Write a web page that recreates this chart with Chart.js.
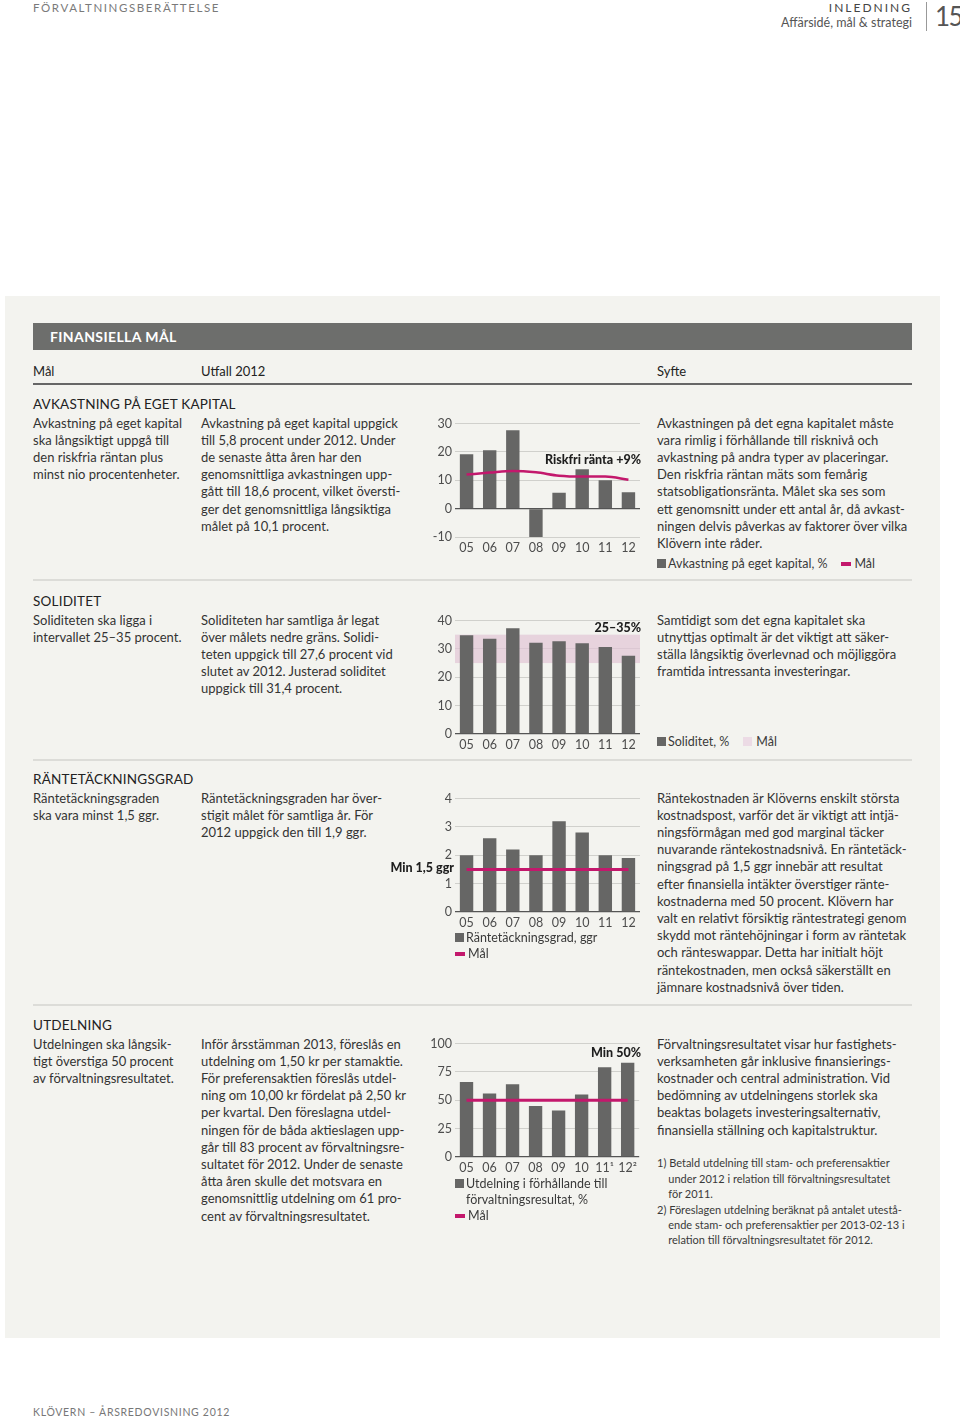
<!DOCTYPE html>
<html lang="sv">
<head>
<meta charset="utf-8">
<script src="https://cdn.jsdelivr.net/npm/chart.js@4/dist/chart.umd.min.js"></script>
<style>
  html, body { margin: 0; padding: 0; background: #fff; }
  body { width: 960px; height: 1420px; position: relative; font-family: Lato, "Open Sans", sans-serif; color: #333; }
  .abs { position: absolute; white-space: nowrap; }
  .panel { position: absolute; left: 5px; top: 296px; width: 935px; height: 1042px; background: #f3f3ef; }
  .bar { position: absolute; left: 33px; top: 323px; width: 879px; height: 27px; background: #6d6e6c; }
  .bar span { position: absolute; left: 17px; top: 5px; color: #fff; font-size: 14px; font-weight: 700; letter-spacing: 0.4px; }
  .t { font-size: 13px; line-height: 17.2px; color: #333; }
  .h { font-size: 13.5px; letter-spacing: 0.2px; color: #222; }
  .sep { position: absolute; left: 33px; width: 879px; height: 2px; background: #dcdcd8; }
  .note { font-size: 12.5px; line-height: 17px; font-weight: 900; color: #1e1e1e; }
  .lg { font-size: 12.5px; line-height: 16px; color: #3a3a3a; }
  .sq { display: inline-block; width: 9px; height: 9px; background: #666665; margin-right: 2px; }
  .ln { display: inline-block; width: 10px; height: 4px; background: #c3186c; margin-right: 3px; vertical-align: 2px; }
  .pk { display: inline-block; width: 9px; height: 9px; background: #ecdbe5; margin-right: 4px; }
  .fn { font-size: 11px; line-height: 15.4px; color: #3a3a3a; }
  canvas { position: absolute; }
</style>
</head>
<body>
<div class="abs" style="left:33px;top:1px;font-size:11.5px;letter-spacing:1.6px;color:#7a7a7a;">FÖRVALTNINGSBERÄTTELSE</div>
<div class="abs" style="right:48px;top:0px;font-size:12px;letter-spacing:2px;color:#444;text-align:right;">INLEDNING</div>
<div class="abs" style="right:48px;top:15px;font-size:12.5px;color:#555;text-align:right;">Affärsidé, mål &amp; strategi</div>
<div class="abs" style="left:926px;top:2px;width:1px;height:29px;background:#999;"></div>
<div class="abs" style="left:935px;top:0px;font-size:26px;letter-spacing:-1.5px;color:#555;">15</div>

<div class="panel"></div>
<div class="bar"><span>FINANSIELLA MÅL</span></div>
<div class="abs t" style="left:33px;top:363px;color:#222;">Mål</div>
<div class="abs t" style="left:201px;top:363px;color:#222;">Utfall 2012</div>
<div class="abs t" style="left:657px;top:363px;color:#222;">Syfte</div>
<div class="abs" style="left:33px;top:383px;width:879px;height:2px;background:#666;"></div>

<!-- Avkastning -->
<div class="abs h" style="left:33px;top:396px;">AVKASTNING PÅ EGET KAPITAL</div>
<div class="abs t" style="left:33px;top:414.5px;">Avkastning på eget kapital<br>ska långsiktigt uppgå till<br>den riskfria räntan plus<br>minst nio procentenheter.</div>
<div class="abs t" style="left:201px;top:414.5px;">Avkastning på eget kapital uppgick<br>till 5,8 procent under 2012. Under<br>de senaste åtta åren har den<br>genomsnittliga avkastningen upp-<br>gått till 18,6 procent, vilket översti-<br>ger det genomsnittliga långsiktiga<br>målet på 10,1 procent.</div>
<div class="abs t" style="left:657px;top:414.5px;">Avkastningen på det egna kapitalet måste<br>vara rimlig i förhållande till risknivå och<br>avkastning på andra typer av placeringar.<br>Den riskfria räntan mäts som femårig<br>statsobligationsränta. Målet ska ses som<br>ett genomsnitt under ett antal år, då avkast-<br>ningen delvis påverkas av faktorer över vilka<br>Klövern inte råder.</div>
<div class="abs lg" style="left:657px;top:556px;"><span class="sq"></span>Avkastning på eget kapital, %<span style="display:inline-block;width:14px;"></span><span class="ln"></span>Mål</div>
<canvas id="avkChart" width="215" height="146" style="left:425px;top:413px;"></canvas>
<div class="abs note" style="right:319px;top:451px;">Riskfri ränta +9%</div>
<div class="sep" style="top:579px;"></div>

<!-- Soliditet -->
<div class="abs h" style="left:33px;top:593px;">SOLIDITET</div>
<div class="abs t" style="left:33px;top:611.5px;">Soliditeten ska ligga i<br>intervallet 25–35 procent.</div>
<div class="abs t" style="left:201px;top:611.5px;">Soliditeten har samtliga år legat<br>över målets nedre gräns. Solidi-<br>teten uppgick till 27,6 procent vid<br>slutet av 2012. Justerad soliditet<br>uppgick till 31,4 procent.</div>
<div class="abs t" style="left:657px;top:611.5px;">Samtidigt som det egna kapitalet ska<br>utnyttjas optimalt är det viktigt att säker-<br>ställa långsiktig överlevnad och möjliggöra<br>framtida intressanta investeringar.</div>
<div class="abs lg" style="left:657px;top:734px;"><span class="sq"></span>Soliditet, %<span style="display:inline-block;width:14px;"></span><span class="pk"></span>Mål</div>
<canvas id="solChart" width="215" height="146" style="left:425px;top:610px;"></canvas>
<div class="abs note" style="right:319px;top:619px;">25–35%</div>
<div class="sep" style="top:759px;"></div>

<!-- Räntetäckningsgrad -->
<div class="abs h" style="left:33px;top:771px;">RÄNTETÄCKNINGSGRAD</div>
<div class="abs t" style="left:33px;top:789.5px;">Räntetäckningsgraden<br>ska vara minst 1,5 ggr.</div>
<div class="abs t" style="left:201px;top:789.5px;">Räntetäckningsgraden har över-<br>stigit målet för samtliga år. För<br>2012 uppgick den till 1,9 ggr.</div>
<div class="abs t" style="left:657px;top:789.5px;">Räntekostnaden är Klöverns enskilt största<br>kostnadspost, varför det är viktigt att intjä-<br>ningsförmågan med god marginal täcker<br>nuvarande räntekostnadsnivå. En räntetäck-<br>ningsgrad på 1,5 ggr innebär att resultat<br>efter finansiella intäkter överstiger ränte-<br>kostnaderna med 50 procent. Klövern har<br>valt en relativt försiktig räntestrategi genom<br>skydd mot räntehöjningar i form av räntetak<br>och ränteswappar. Detta har initialt höjt<br>räntekostnaden, men också säkerställt en<br>jämnare kostnadsnivå över tiden.</div>
<canvas id="rtChart" width="215" height="146" style="left:425px;top:788px;"></canvas>
<div class="abs note" style="right:506px;top:859px;">Min 1,5 ggr</div>
<div class="abs lg" style="left:455px;top:930px;"><span class="sq"></span>Räntetäckningsgrad, ggr<br><span class="ln"></span>Mål</div>
<div class="sep" style="top:1004px;"></div>

<!-- Utdelning -->
<div class="abs h" style="left:33px;top:1017px;">UTDELNING</div>
<div class="abs t" style="left:33px;top:1035.5px;">Utdelningen ska långsik-<br>tigt överstiga 50 procent<br>av förvaltningsresultatet.</div>
<div class="abs t" style="left:201px;top:1035.5px;">Inför årsstämman 2013, föreslås en<br>utdelning om 1,50 kr per stamaktie.<br>För preferensaktien föreslås utdel-<br>ning om 10,00 kr fördelat på 2,50 kr<br>per kvartal. Den föreslagna utdel-<br>ningen för de båda aktieslagen upp-<br>går till 83 procent av förvaltningsre-<br>sultatet för 2012. Under de senaste<br>åtta åren skulle det motsvara en<br>genomsnittlig utdelning om 61 pro-<br>cent av förvaltningsresultatet.</div>
<div class="abs t" style="left:657px;top:1035.5px;">Förvaltningsresultatet visar hur fastighets-<br>verksamheten går inklusive finansierings-<br>kostnader och central administration. Vid<br>bedömning av utdelningens storlek ska<br>beaktas bolagets investeringsalternativ,<br>finansiella ställning och kapitalstruktur.</div>
<div class="abs fn" style="left:657px;top:1155.3px;">1) Betald utdelning till stam- och preferensaktier<br>&nbsp;&nbsp;&nbsp;&nbsp;under 2012 i relation till förvaltningsresultatet<br>&nbsp;&nbsp;&nbsp;&nbsp;för 2011.<br>2) Föreslagen utdelning beräknat på antalet utestå-<br>&nbsp;&nbsp;&nbsp;&nbsp;ende stam- och preferensaktier per 2013-02-13 i<br>&nbsp;&nbsp;&nbsp;&nbsp;relation till förvaltningsresultatet för 2012.</div>
<canvas id="utdChart" width="215" height="146" style="left:425px;top:1033px;"></canvas>
<div class="abs note" style="right:319px;top:1044px;">Min 50%</div>
<div class="abs lg" style="left:455px;top:1176px;"><span class="sq"></span>Utdelning i förhållande till<br><span style="display:inline-block;width:11px;"></span>förvaltningsresultat, %<br><span class="ln"></span>Mål</div>

<div class="abs" style="left:33px;top:1406px;font-size:10.5px;letter-spacing:0.7px;color:#777;">KLÖVERN – ÅRSREDOVISNING 2012</div>

<script>
const years = ['05', '06', '07', '08', '09', '10', '11', '12'];
const utdYears = ['05', '06', '07', '08', '09', '10', '11¹', '12²'];

const avkastning = [19.2, 20.6, 27.6, -10.6, 5.6, 13.9, 10.0, 5.8];
const avkastningMal = [12.0, 12.7, 13.3, 12.8, 11.6, 11.3, 11.3, 10.2];
const avkTicks = [-10, 0, 10, 20, 30];

const soliditet = [34.8, 33.6, 37.3, 32.2, 32.7, 32.0, 30.7, 27.6];
const soliditetMal = [25, 35];
const solTicks = [0, 10, 20, 30, 40];

const rantetackning = [2.0, 2.6, 2.2, 2.0, 3.2, 2.8, 2.0, 1.9];
const rantetackningMal = [1.5, 1.5, 1.5, 1.5, 1.5, 1.5, 1.5, 1.5];
const rtTicks = [0, 1, 2, 3, 4];

const utdelning = [66, 56, 64, 45, 41, 55, 79, 83];
const utdelningMal = [50, 50, 50, 50, 50, 50, 50, 50];
const utdTicks = [0, 25, 50, 75, 100];

const BAR = '#666665';
const MAL = '#c3186c';

// pale target band (used for soliditet)
const bandPlugin = {
  id: 'band',
  beforeDatasetsDraw(chart, args, opts) {
    if (!opts.range) return;
    const { ctx, chartArea, scales } = chart;
    const y1 = scales.y.getPixelForValue(opts.range[1]);
    const y0 = scales.y.getPixelForValue(opts.range[0]);
    ctx.save();
    ctx.fillStyle = 'rgba(225, 196, 214, 0.7)';
    ctx.fillRect(chartArea.left, y1, chartArea.right - chartArea.left, y0 - y1);
    ctx.restore();
  }
};

function makeChart(id, labels, values, ticks, target, extra = {}) {
  const datasets = [];
  if (target) {
    datasets.push({ type: 'line', data: target, borderColor: MAL, borderWidth: extra.lineWidth || 3,
      pointRadius: 0, tension: extra.tension || 0, cubicInterpolationMode: extra.tension ? 'monotone' : 'default', order: 0 });
  }
  datasets.push({ type: 'bar', data: values, backgroundColor: BAR, barPercentage: 0.58, categoryPercentage: 1, order: 1 });

  return new Chart(document.getElementById(id), {
    data: { labels, datasets },
    plugins: [bandPlugin],
    options: {
      responsive: false,
      animation: false,
      layout: { padding: { top: 10, right: 0, left: 0, bottom: 0 } },
      plugins: { legend: { display: false }, tooltip: { enabled: false }, band: { range: extra.band } },
      scales: {
        x: {
          grid: { display: false, drawTicks: false }, border: { display: false },
          ticks: { color: '#4d4d4d', font: { family: 'Lato', size: 12.5 }, padding: 3, maxRotation: 0, autoSkip: false },
          afterFit: (s) => { s.height = 22; },
        },
        y: {
          min: ticks[0], max: ticks[ticks.length - 1],
          afterBuildTicks: (s) => { s.ticks = ticks.map((v) => ({ value: v })); },
          grid: { drawTicks: false, lineWidth: (c) => (c.tick && c.tick.value === 0 ? 1.3 : 1),
            color: (c) => (c.tick && c.tick.value === 0 ? '#555' : '#d0d0cc') },
          border: { display: false },
          ticks: { color: '#4d4d4d', font: { family: 'Lato', size: 12.5 }, padding: 3 },
          afterFit: (s) => { s.width = 30; },
        },
      },
    },
  });
}

makeChart('avkChart', years, avkastning, avkTicks, avkastningMal, { tension: 0.4, lineWidth: 2.5 });
makeChart('solChart', years, soliditet, solTicks, null, { band: soliditetMal });
makeChart('rtChart', years, rantetackning, rtTicks, rantetackningMal);
makeChart('utdChart', utdYears, utdelning, utdTicks, utdelningMal);
</script>
</body>
</html>
